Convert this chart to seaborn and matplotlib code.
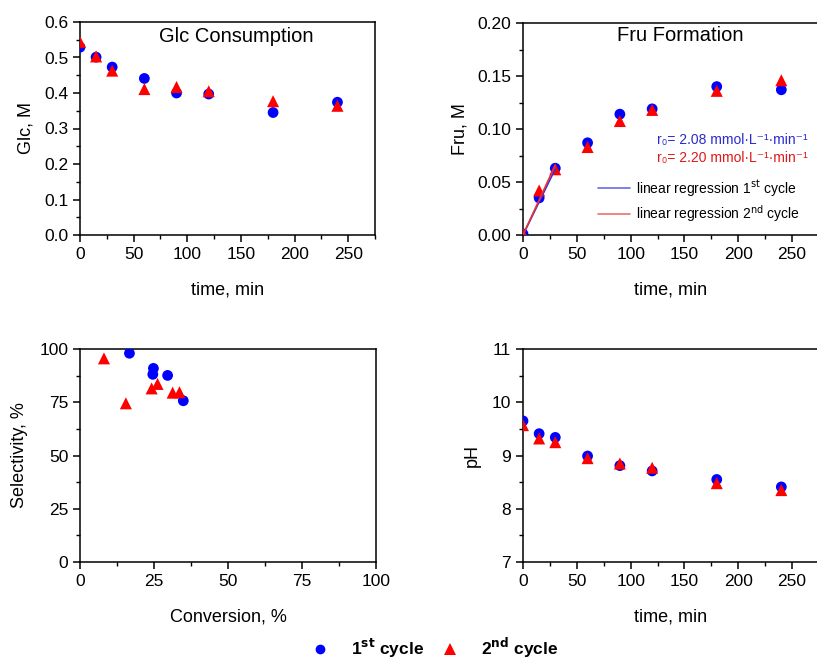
import numpy as np
import pandas as pd
import matplotlib
matplotlib.use("Agg")
import matplotlib.pyplot as plt
from matplotlib.lines import Line2D
from matplotlib.ticker import MultipleLocator, FormatStrFormatter
import seaborn as sns

# --- data -----------------------------------------------------------------
time_min = [0, 15, 30, 60, 90, 120, 180, 240]

glc_1st = [0.529, 0.501, 0.473, 0.441, 0.400, 0.397, 0.345, 0.374]
glc_2nd = [0.544, 0.503, 0.463, 0.411, 0.417, 0.405, 0.377, 0.364]

fru_1st = [0.001, 0.035, 0.063, 0.087, 0.114, 0.119, 0.140, 0.137]
fru_2nd = [0.001, 0.042, 0.062, 0.083, 0.1075, 0.118, 0.136, 0.146]

ph_1st = [9.65, 9.41, 9.34, 8.99, 8.81, 8.71, 8.55, 8.41]
ph_2nd = [9.57, 9.32, 9.25, 8.95, 8.85, 8.77, 8.48, 8.35]

conv_1st = [16.7, 24.8, 24.6, 29.6, 34.9]
sel_1st = [98.0, 90.9, 88.1, 87.6, 75.7]
conv_2nd = [8.1, 15.5, 24.2, 26.2, 31.3, 33.6]
sel_2nd = [95.6, 74.5, 81.5, 83.6, 79.5, 79.7]

# initial rates, mmol L^-1 min^-1
r0_1st = 2.08
r0_2nd = 2.20
fit_window = [0, 30]

cycles = ["1st", "2nd"]
palette = {"1st": "#0000ff", "2nd": "#ff0000"}
markers = {"1st": "o", "2nd": "^"}
sizes = {"1st": 60, "2nd": 75}


def long_frame(x1, y1, x2, y2):
    return pd.concat([
        pd.DataFrame({"x": x1, "y": y1, "cycle": "1st"}),
        pd.DataFrame({"x": x2, "y": y2, "cycle": "2nd"}),
    ], ignore_index=True)


glc_df = long_frame(time_min, glc_1st, time_min, glc_2nd)
fru_df = long_frame(time_min, fru_1st, time_min, fru_2nd)
ph_df = long_frame(time_min, ph_1st, time_min, ph_2nd)
sel_df = long_frame(conv_1st, sel_1st, conv_2nd, sel_2nd)

# --- style ----------------------------------------------------------------
sns.set_style("ticks")
plt.rcParams["font.family"] = ["Liberation Sans", "DejaVu Sans"]
plt.rcParams.update({
    "axes.linewidth": 1.1,
    "xtick.major.width": 1.1, "ytick.major.width": 1.1,
    "xtick.minor.width": 1.0, "ytick.minor.width": 1.0,
    "xtick.major.size": 5, "ytick.major.size": 5,
    "xtick.minor.size": 3, "ytick.minor.size": 3,
    "xtick.direction": "out", "ytick.direction": "out",
    "xtick.labelsize": 12.5, "ytick.labelsize": 12.5,
    "axes.labelsize": 13,
    "axes.edgecolor": "black",
    "xtick.color": "black", "ytick.color": "black",
    "text.color": "black", "axes.labelcolor": "black",
})

W, H = 817, 659
fig = plt.figure(figsize=(W / 100, H / 100), dpi=100)


def px_axes(left, top, right, bottom):
    return fig.add_axes([left / W, 1 - bottom / H, (right - left) / W, (bottom - top) / H])


ax_glc = px_axes(80, 22, 375, 235)
ax_fru = px_axes(523, 23, 819, 235)
ax_sel = px_axes(80, 349, 376, 562)
ax_ph = px_axes(523, 349, 819, 562)


def draw(ax, df):
    sns.scatterplot(data=df, x="x", y="y", hue="cycle", style="cycle",
                    size="cycle", sizes=sizes, palette=palette, markers=markers,
                    hue_order=cycles, style_order=cycles, size_order=cycles,
                    edgecolor="none", linewidth=0, legend=False, ax=ax, zorder=3)
    for s in ax.spines.values():
        s.set_visible(True)
        s.set_linewidth(1.1)
    ax.tick_params(which="both", top=False, right=False)


draw(ax_glc, glc_df)
draw(ax_fru, fru_df)
draw(ax_sel, sel_df)
draw(ax_ph, ph_df)

for ax in (ax_glc, ax_fru, ax_ph):
    ax.set_xlim(0, 275)
    ax.xaxis.set_major_locator(MultipleLocator(50))
    ax.xaxis.set_minor_locator(MultipleLocator(25))
    ax.set_xlabel("time, min", labelpad=14)

ax_glc.set_ylim(0, 0.6)
ax_glc.yaxis.set_major_locator(MultipleLocator(0.1))
ax_glc.yaxis.set_minor_locator(MultipleLocator(0.05))
ax_glc.yaxis.set_major_formatter(FormatStrFormatter("%.1f"))
ax_glc.set_ylabel("Glc, M", labelpad=7)
ax_glc.text(0.53, 0.93, "Glc Consumption", transform=ax_glc.transAxes,
            ha="center", va="center", fontsize=14.5)

ax_fru.set_ylim(0, 0.2)
ax_fru.yaxis.set_major_locator(MultipleLocator(0.05))
ax_fru.yaxis.set_minor_locator(MultipleLocator(0.025))
ax_fru.yaxis.set_major_formatter(FormatStrFormatter("%.2f"))
ax_fru.set_ylabel("Fru, M", labelpad=6)
ax_fru.text(0.53, 0.94, "Fru Formation", transform=ax_fru.transAxes,
            ha="center", va="center", fontsize=14.5)

# initial-rate regression lines over the first 30 min
t_fit = np.array(fit_window, dtype=float)
sns.lineplot(x=t_fit, y=r0_1st * 1e-3 * t_fit, color="#3a30d8", lw=1.2, ax=ax_fru, zorder=4)
sns.lineplot(x=t_fit, y=r0_2nd * 1e-3 * t_fit, color="#e83030", lw=1.2, ax=ax_fru, zorder=4)

rate_fmt = "r\u2080= %.2f mmol\u00b7L\u207b\u00b9\u00b7min\u207b\u00b9"
ax_fru.text(0.963, 0.447, rate_fmt % r0_1st,
            transform=ax_fru.transAxes, ha="right", va="center", fontsize=10, color="#2a2ad0")
ax_fru.text(0.963, 0.365, rate_fmt % r0_2nd,
            transform=ax_fru.transAxes, ha="right", va="center", fontsize=10, color="#e01818")

line_handles = [Line2D([], [], color="#6a6ae8", lw=1.2),
                Line2D([], [], color="#ee7070", lw=1.2)]
ax_fru.legend(line_handles,
              ["linear regression 1$^{\\rm st}$ cycle", "linear regression 2$^{\\rm nd}$ cycle"],
              loc="upper left", bbox_to_anchor=(0.255, 0.268), frameon=False,
              fontsize=10, handlelength=2.3, handletextpad=0.4, labelspacing=0.3,
              borderpad=0.0, borderaxespad=0.0)

ax_sel.set_xlim(0, 100)
ax_sel.set_ylim(0, 100)
for axis in (ax_sel.xaxis, ax_sel.yaxis):
    axis.set_major_locator(MultipleLocator(25))
    axis.set_minor_locator(MultipleLocator(12.5))
ax_sel.set_xlabel("Conversion, %", labelpad=14)
ax_sel.set_ylabel("Selectivity, %", labelpad=8)

ax_ph.set_ylim(7, 11)
ax_ph.yaxis.set_major_locator(MultipleLocator(1))
ax_ph.yaxis.set_minor_locator(MultipleLocator(0.5))
ax_ph.set_ylabel("pH", labelpad=8)

# shared legend for the two cycles
cycle_handles = [
    Line2D([], [], ls="none", marker="o", color=palette["1st"], markersize=7, markeredgewidth=0),
    Line2D([], [], ls="none", marker="^", color=palette["2nd"], markersize=8, markeredgewidth=0),
]
fig.legend(cycle_handles, ["1$^{\\mathbf{st}}$ cycle", "2$^{\\mathbf{nd}}$ cycle"],
           loc="center", bbox_to_anchor=(434 / W, 1 - 648 / H), ncol=2, frameon=False,
           prop={"weight": "bold", "size": 12.5}, handletextpad=1.2, columnspacing=0.9,
           handlelength=1.2)

fig.savefig("out.png", dpi=100)
